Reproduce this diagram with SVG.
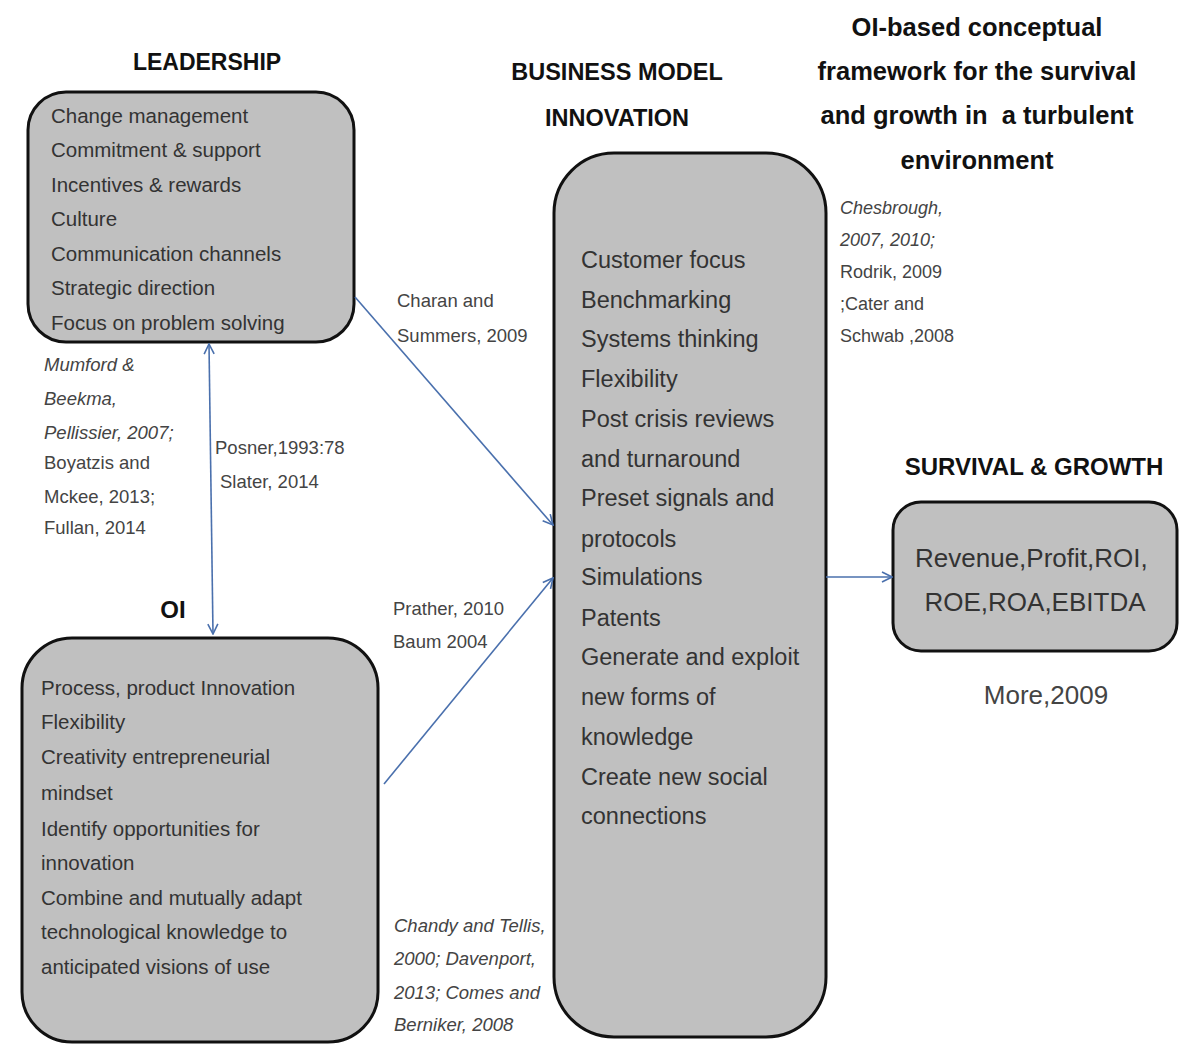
<svg xmlns="http://www.w3.org/2000/svg" width="1184" height="1050" viewBox="0 0 1184 1050">
<defs>
<style>
.box{fill:#c0c0c0;stroke:#111;stroke-width:3}
.hd{font-family:"Liberation Sans",Arial,sans-serif;font-weight:bold;fill:#111}
.tx{font-family:"Liberation Sans",Arial,sans-serif;fill:#333}
.ct{font-family:"Liberation Sans",Arial,sans-serif;fill:#444;font-size:18.5px}
.it{font-style:italic}
.cn{stroke:#4a70ad;stroke-width:1.6;fill:none}
</style>
<marker id="ah" viewBox="0 0 12 12" refX="11" refY="6" markerWidth="12" markerHeight="12" markerUnits="userSpaceOnUse" orient="auto-start-reverse">
<path d="M1,1 L11,6 L1,11" fill="none" stroke="#4a70ad" stroke-width="1.6"/>
</marker>
</defs>
<rect width="1184" height="1050" fill="#fff"/>

<g id="titles">
<text class="hd" x="207" y="70" font-size="23" text-anchor="middle">LEADERSHIP</text>
<text class="hd" x="617" y="80" font-size="23.5" text-anchor="middle">BUSINESS MODEL</text>
<text class="hd" x="617" y="126" font-size="23.5" text-anchor="middle">INNOVATION</text>
<text class="hd" x="977" y="36" font-size="25.5" text-anchor="middle">OI-based conceptual</text>
<text class="hd" x="977" y="80" font-size="25.5" text-anchor="middle">framework for the survival</text>
<text class="hd" x="977" y="124" font-size="25.5" text-anchor="middle" style="white-space:pre">and growth in  a turbulent</text>
<text class="hd" x="977" y="169" font-size="25.5" text-anchor="middle">environment</text>
<text class="hd" x="1034" y="475" font-size="24" text-anchor="middle">SURVIVAL &amp; GROWTH</text>
<text class="hd" x="173" y="618" font-size="24" text-anchor="middle">OI</text>
</g>

<g id="leadership">
<rect class="box" x="28" y="92" width="326" height="250" rx="38"/>
<text class="tx" font-size="20.5">
<tspan x="51" y="123">Change management</tspan>
<tspan x="51" y="157">Commitment &amp; support</tspan>
<tspan x="51" y="192">Incentives &amp; rewards</tspan>
<tspan x="51" y="226">Culture</tspan>
<tspan x="51" y="261">Communication channels</tspan>
<tspan x="51" y="295">Strategic direction</tspan>
<tspan x="51" y="330">Focus on problem solving</tspan>
</text>
</g>

<g id="oi">
<rect class="box" x="22" y="638" width="356" height="404" rx="50"/>
<text class="tx" font-size="20.5">
<tspan x="41" y="695">Process, product Innovation</tspan>
<tspan x="41" y="729">Flexibility</tspan>
<tspan x="41" y="764">Creativity entrepreneurial</tspan>
<tspan x="41" y="800">mindset</tspan>
<tspan x="41" y="836">Identify opportunities for</tspan>
<tspan x="41" y="870">innovation</tspan>
<tspan x="41" y="905">Combine and mutually adapt</tspan>
<tspan x="41" y="939">technological knowledge to</tspan>
<tspan x="41" y="974">anticipated visions of use</tspan>
</text>
</g>

<g id="bmi">
<rect class="box" x="554" y="153" width="272" height="884" rx="60"/>
<text class="tx" font-size="23.5" fill="#2e2e2e">
<tspan x="581" y="268">Customer focus</tspan>
<tspan x="581" y="308">Benchmarking</tspan>
<tspan x="581" y="347">Systems thinking</tspan>
<tspan x="581" y="387">Flexibility</tspan>
<tspan x="581" y="427">Post crisis reviews</tspan>
<tspan x="581" y="467">and turnaround</tspan>
<tspan x="581" y="506">Preset signals and</tspan>
<tspan x="581" y="547">protocols</tspan>
<tspan x="581" y="585">Simulations</tspan>
<tspan x="581" y="626">Patents</tspan>
<tspan x="581" y="665">Generate and exploit</tspan>
<tspan x="581" y="705">new forms of</tspan>
<tspan x="581" y="745">knowledge</tspan>
<tspan x="581" y="785">Create new social</tspan>
<tspan x="581" y="824">connections</tspan>
</text>
</g>

<g id="survival">
<rect class="box" x="893" y="502" width="284" height="149" rx="28"/>
<text class="tx" font-size="26" text-anchor="middle">
<tspan x="1035" y="567">Revenue,Profit,ROI,</tspan>
<tspan x="1035" y="611">ROE,ROA,EBITDA</tspan>
</text>
</g>

<g id="citations">
<text class="ct" x="1046" y="704" style="font-size:26px" text-anchor="middle">More,2009</text>
<text class="ct"><tspan class="it" x="44" y="371">Mumford &amp;</tspan><tspan class="it" x="44" y="405">Beekma,</tspan><tspan class="it" x="44" y="439">Pellissier, 2007;</tspan><tspan x="44" y="469">Boyatzis and</tspan><tspan x="44" y="503">Mckee, 2013;</tspan><tspan x="44" y="534">Fullan, 2014</tspan></text>
<text class="ct"><tspan x="215" y="454">Posner,1993:78</tspan><tspan x="220" y="488">Slater, 2014</tspan></text>
<text class="ct"><tspan x="397" y="307">Charan and</tspan><tspan x="397" y="342">Summers, 2009</tspan></text>
<text class="ct"><tspan x="393" y="615">Prather, 2010</tspan><tspan x="393" y="648">Baum 2004</tspan></text>
<text class="ct" style="font-size:18px"><tspan class="it" x="840" y="214">Chesbrough,</tspan><tspan class="it" x="840" y="246">2007, 2010;</tspan><tspan x="840" y="278">Rodrik, 2009</tspan><tspan x="840" y="310">;Cater and</tspan><tspan x="840" y="342">Schwab ,2008</tspan></text>
<text class="ct it"><tspan x="394" y="932">Chandy and Tellis,</tspan><tspan x="394" y="965">2000; Davenport,</tspan><tspan x="394" y="999">2013; Comes and</tspan><tspan x="394" y="1031">Berniker, 2008</tspan></text>
</g>

<g id="connectors">
<line class="cn" x1="209" y1="344" x2="213" y2="634" marker-start="url(#ah)" marker-end="url(#ah)"/>
<line class="cn" x1="355" y1="297" x2="553" y2="525" marker-end="url(#ah)"/>
<line class="cn" x1="384" y1="784" x2="553" y2="578" marker-end="url(#ah)"/>
<line class="cn" x1="826" y1="577" x2="892" y2="577" marker-end="url(#ah)"/>
</g>
</svg>
